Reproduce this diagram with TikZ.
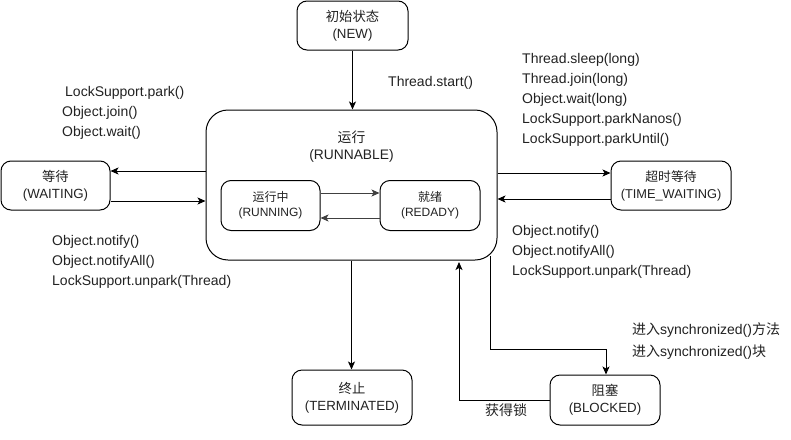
\documentclass[tikz,border=0pt]{standalone}
\usepackage{fontspec}
\setmainfont{Liberation Sans}
\newfontfamily\cjk{Noto Sans CJK SC}
\usetikzlibrary{arrows.meta}
\definecolor{txt}{HTML}{222222}
\begin{document}
\begin{tikzpicture}[x=1pt,y=-1pt,
  state/.style={draw, line width=1pt, rounded corners=10pt, align=center, inner sep=0pt, text=txt, font=\fontsize{13.3}{17}\selectfont},
  lbl/.style={anchor=north west, align=left, inner sep=0pt, text=txt, font=\fontsize{14}{20}\selectfont},
  arr/.style={-{Stealth[length=8pt,width=7pt,inset=2pt]}, line width=1pt}]
\fill[white] (0,0) rectangle (791,439);
\useasboundingbox (0,0) rectangle (791,439);
% states
\node[state, minimum width=111pt, minimum height=49pt] (new) at (352.5,25.5) {{\cjk 初始状态}\\(NEW)};
\node[state, rounded corners=22pt, minimum width=291pt, minimum height=150pt] (run) at (351.5,185) {};
\node[state, draw=none, font=\fontsize{13.8}{17}\selectfont] (runlbl) at (351.5,146.5) {{\cjk 运行}\\(RUNNABLE)};
\node[state, font=\fontsize{12}{15}\selectfont, minimum width=99pt, minimum height=50pt] (running) at (270.5,205.5) {{\cjk 运行中}\\(RUNNING)};
\node[state, font=\fontsize{12}{15}\selectfont, minimum width=100pt, minimum height=50pt] (ready) at (430,205.5) {{\cjk 就绪}\\(REDADY)};
\node[state, minimum width=109pt, minimum height=49pt] (wait) at (55.5,185.5) {{\cjk 等待}\\(WAITING)};
\node[state, font=\fontsize{12.8}{17}\selectfont, minimum width=120pt, minimum height=49pt] (tw) at (671,185.5) {{\cjk 超时等待}\\(TIME\_WAITING)};
\node[state, minimum width=120pt, minimum height=55pt] (term) at (352,397.5) {{\cjk 终止}\\(TERMINATED)};
\node[state, minimum width=110pt, minimum height=50pt] (blocked) at (605,400) {{\cjk 阻塞}\\(BLOCKED)};
% connectors
\draw[arr] (new.south) -- (new.south |- run.north);
\draw[arr] (run.south) -- (run.south |- term.north);
\draw[arr] (run.west |- 0,171) -- (wait.east |- 0,171);
\draw[arr] (wait.east |- 0,201) -- (run.west |- 0,201);
\draw[arr] (run.east |- 0,173) -- (tw.west |- 0,173);
\draw[arr] (tw.west |- 0,199) -- (run.east |- 0,199);
\draw[arr, draw=black!75, fill=black!75] (running.east |- 0,193) -- (ready.west |- 0,193);
\draw[arr, draw=black!75, fill=black!75] (ready.west |- 0,218) -- (running.east |- 0,218);
\coordinate (runout) at (490,256);
\draw[arr] (runout) -- (490,349) -| (blocked.north -| 606,0);
\coordinate (runin) at (459,262);
\draw[arr] (blocked.west |- 0,400) -| (runin);
% labels
\node[lbl] (l1) at (388,76) {Thread.start()};
\node[lbl] (l2) at (62,86) {\hspace{3pt}LockSupport.park()\\Object.join()\\Object.wait()};
\node[lbl] (l3) at (522,53.5) {Thread.sleep(long)\\Thread.join(long)\\Object.wait(long)\\LockSupport.parkNanos()\\LockSupport.parkUntil()};
\node[lbl] (l4) at (52,235) {Object.notify()\\Object.notifyAll()\\LockSupport.unpark(Thread)};
\node[lbl] (l5) at (512,225) {Object.notify()\\Object.notifyAll()\\LockSupport.unpark(Thread)};
\node[lbl, font=\fontsize{14}{22}\selectfont] (l6) at (632,322.5) {{\cjk 进入}synchronized(){\cjk 方法}\\{\cjk 进入}synchronized(){\cjk 块}};
\node[lbl, font=\fontsize{14}{20}\selectfont\cjk] (l7) at (485,403) {获得锁};
\end{tikzpicture}
\end{document}
